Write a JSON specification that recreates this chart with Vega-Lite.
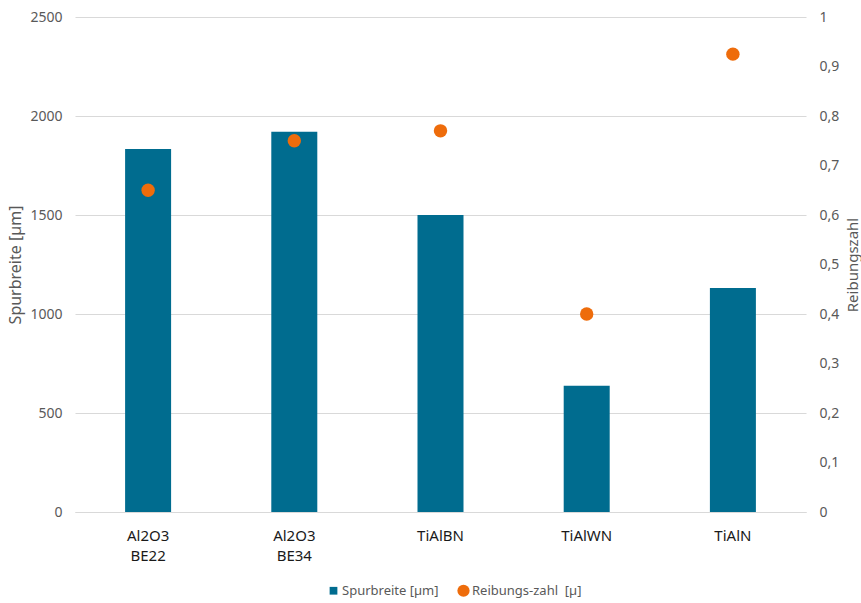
{
  "$schema": "https://vega.github.io/schema/vega-lite/v6.json",
  "width": 731,
  "height": 495,
  "autosize": {"type": "none"},
  "padding": {"left": 75, "top": 17, "right": 55, "bottom": 91},
  "background": "white",
  "config": {
    "font": "Noto Sans",
    "view": {"stroke": null},
    "axis": {"labelColor": "#595959", "titleColor": "#595959", "titleFontWeight": "normal", "labelFontSize": 14, "titleFontSize": 16, "ticks": false, "domain": false}
  },
  "data": {
    "values": [
      {"probe": "Al2O3 BE22", "spurbreite": 1833, "reibung": 0.65},
      {"probe": "Al2O3 BE34", "spurbreite": 1921, "reibung": 0.75},
      {"probe": "TiAlBN", "spurbreite": 1500, "reibung": 0.77},
      {"probe": "TiAlWN", "spurbreite": 638, "reibung": 0.40},
      {"probe": "TiAlN", "spurbreite": 1131, "reibung": 0.925}
    ]
  },
  "encoding": {
    "x": {
      "field": "probe",
      "type": "nominal",
      "sort": null,
      "scale": {"paddingInner": 0, "paddingOuter": 0},
      "axis": {
        "title": null,
        "labelAngle": 0,
        "labelColor": "#1a1a1a",
        "labelFontSize": 15,
        "labelPadding": 16,
        "labelLineHeight": 20,
        "labelExpr": "split(datum.label, ' ')",
        "domain": true,
        "domainColor": "#d9d9d9",
        "domainWidth": 1
      }
    }
  },
  "layer": [
    {
      "mark": {"type": "bar", "size": 46},
      "encoding": {
        "y": {
          "field": "spurbreite",
          "type": "quantitative",
          "scale": {"domain": [0, 2500]},
          "axis": {
            "title": "Spurbreite [µm]",
            "titleFontSize": 16,
            "values": [0, 500, 1000, 1500, 2000, 2500],
            "format": "d",
            "grid": true,
            "gridColor": "#d9d9d9",
            "gridWidth": 1,
            "labelPadding": 13,
            "titlePadding": 6
          }
        },
        "color": {
          "datum": "Spurbreite [µm]",
          "type": "nominal",
          "scale": {"domain": ["Spurbreite [µm]", "Reibungs-zahl  [µ]"], "range": ["#006c8f", "#ee6c0b"]},
          "legend": {
            "title": null,
            "orient": "none",
            "legendX": 252,
            "legendY": 567,
            "direction": "horizontal",
            "padding": 0,
            "labelFontSize": 13,
            "labelColor": "#595959",
            "labelOffset": 2,
            "columnPadding": 18,
            "symbolSize": 150,
            "symbolStrokeWidth": 0,
            "labelExpr": "replace(datum.label, '  ', '\u00a0 ')",
            "encode": {
              "symbols": {
                "update": {
                  "shape": {"signal": "datum.value === 'Spurbreite [µm]' ? 'square' : 'circle'"},
                  "size": {"signal": "datum.value === 'Spurbreite [µm]' ? 60 : 150"}
                }
              }
            }
          }
        }
      }
    },
    {
      "mark": {"type": "circle", "size": 180, "opacity": 1},
      "encoding": {
        "y": {
          "field": "reibung",
          "type": "quantitative",
          "scale": {"domain": [0, 1]},
          "axis": {
            "title": "Reibungszahl",
            "titleFontSize": 15,
            "orient": "right",
            "values": [0, 0.1, 0.2, 0.3, 0.4, 0.5, 0.6, 0.7, 0.8, 0.9, 1],
            "labelExpr": "replace(format(datum.value, '.1~f'), '.', ',')",
            "grid": false,
            "labelPadding": 13,
            "titleAngle": -90,
            "titleX": 51,
            "titleBaseline": "alphabetic"
          }
        },
        "color": {"datum": "Reibungs-zahl  [µ]", "type": "nominal"}
      }
    }
  ],
  "resolve": {"scale": {"y": "independent"}}
}
